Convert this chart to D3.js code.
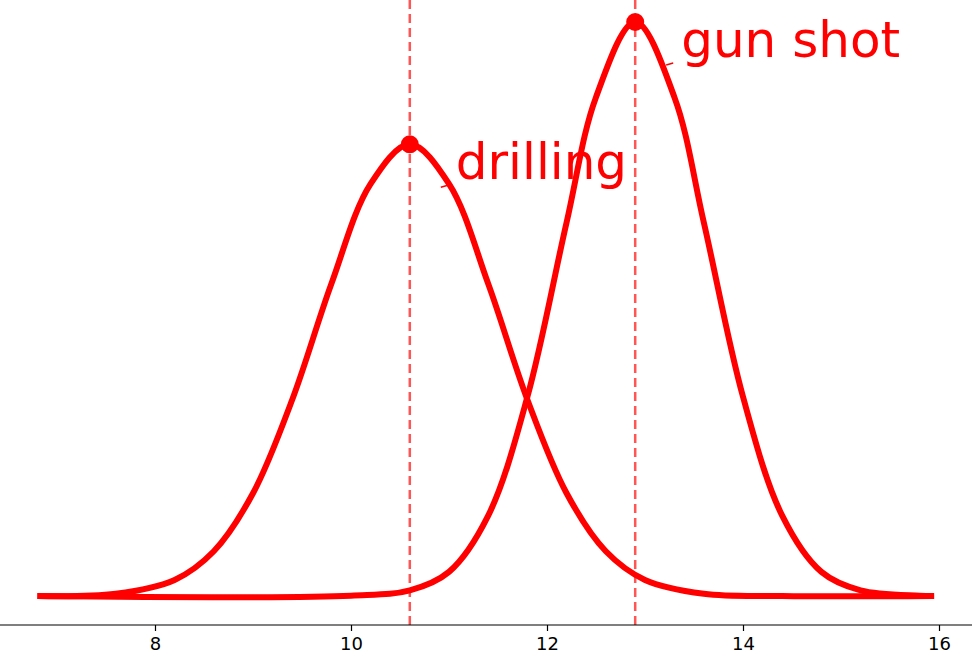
<!DOCTYPE html>
<html><head><meta charset="utf-8">
<script src="https://cdn.jsdelivr.net/npm/d3@7"></script>
<style>body{margin:0;background:#fff}svg{font-family:"DejaVu Sans",sans-serif}</style>
</head><body><svg id="c" width="972" height="670"></svg>
<script>
// curve points (height relative to gun shot peak)
var drillX = [6.8, 7.6, 8.2, 8.6, 9.0, 9.4, 9.8, 10.2, 10.6, 11.0, 11.4, 11.8, 12.2, 12.6, 13.0, 13.6, 14.4, 15.95];
var drillY = [0, 0.004, 0.028, 0.078, 0.179, 0.342, 0.544, 0.718, 0.787, 0.718, 0.544, 0.342, 0.179, 0.078, 0.028, 0.004, 0, 0];
var gunX = [6.8, 10.0, 10.6, 11.0, 11.4, 11.8, 12.2, 12.5, 12.9, 13.3, 13.6, 14.0, 14.4, 14.8, 15.2, 15.8, 15.95];
var gunY = [0, 0.0006, 0.0098, 0.042, 0.14, 0.347, 0.651, 0.869, 1, 0.869, 0.651, 0.347, 0.14, 0.042, 0.0098, 0.0006, 0];
var peaks = [{name: "drilling", x: 10.6, y: 0.787}, {name: "gun shot", x: 12.9, y: 1}];
var ticks = [8, 10, 12, 14, 16];

var svg = d3.select('#c');
var x = d3.scaleLinear().domain([8, 16]).range([155, 939]);
var y = d3.scaleLinear().domain([0, 1]).range([596, 22]);

// dashed markers at the peaks
svg.selectAll('line.peak').data(peaks).enter().append('line')
  .attr('x1', d => x(d.x)).attr('x2', d => x(d.x))
  .attr('y1', 0).attr('y2', 625)
  .attr('stroke', '#ff5555').attr('stroke-width', 2.5)
  .attr('stroke-dasharray', '9,5');

var line = d3.line().x(d => x(d[0])).y(d => y(d[1])).curve(d3.curveCatmullRom);
[[drillX, drillY], [gunX, gunY]].forEach(function (s) {
  svg.append('path').datum(d3.zip(s[0], s[1])).attr('d', line)
    .attr('fill', 'none').attr('stroke', 'red').attr('stroke-width', 6);
});

svg.selectAll('circle').data(peaks).enter().append('circle')
  .attr('cx', d => x(d.x)).attr('cy', d => y(d.y)).attr('r', 9).attr('fill', 'red');

// labels with tiny annotation stubs
svg.selectAll('text.lab').data(peaks).enter().append('text')
  .attr('x', d => x(d.x) + 46).attr('y', d => y(d.y) + 35)
  .attr('font-size', 50).attr('fill', 'red').text(d => d.name);
svg.selectAll('line.stub').data(peaks).enter().append('line')
  .attr('x1', d => x(d.x) + 31).attr('x2', d => x(d.x) + 38)
  .attr('y1', d => y(d.y) + 43).attr('y2', d => y(d.y) + 41)
  .attr('stroke', 'red').attr('stroke-width', 1.5);

// bottom axis
var ax = svg.append('g').attr('transform', 'translate(0,625)')
  .call(d3.axisBottom(x).tickValues(ticks).tickSize(6).tickSizeOuter(0));
ax.select('.domain').attr('d', 'M0,0H972');
ax.selectAll('text').attr('font-size', 18).attr('dy', '0.9em')
  .attr('font-family', '"DejaVu Sans",sans-serif');
ax.selectAll('line,path').attr('stroke', '#000').attr('stroke-width', 1.2);
</script></body></html>
